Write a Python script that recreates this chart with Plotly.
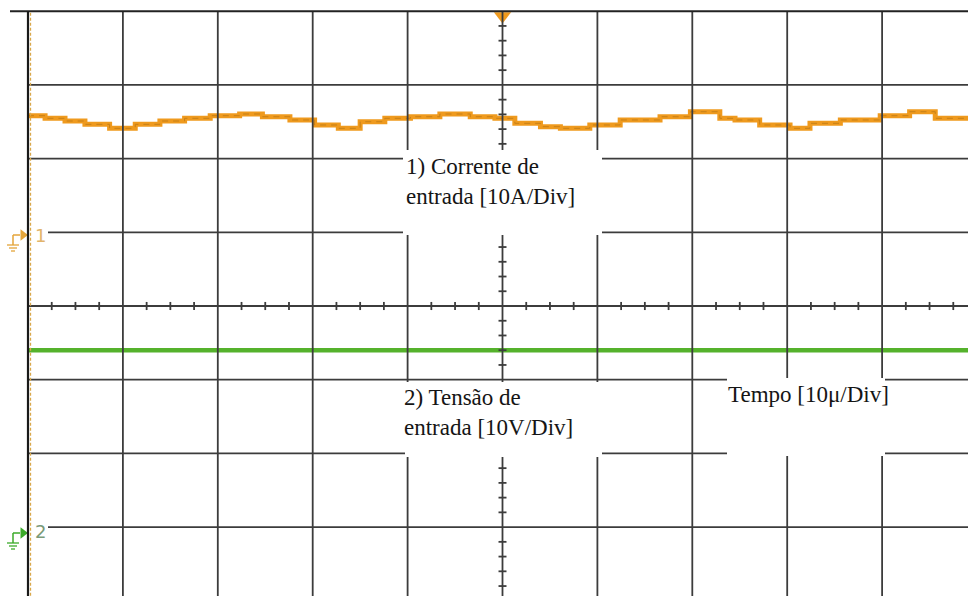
import plotly.graph_objects as go

# ---- Channel 1: input current (10 A/div, ground marker at +1 div) ----
time_i_us = [0.0, 1.8, 3.9, 6.0, 8.6, 11.3, 13.9, 16.5, 19.2, 22.3, 24.7, 27.6,
             30.2, 32.7, 35.0, 37.6, 40.3, 43.4, 46.6, 49.2, 51.3, 54.0, 56.1,
             59.2, 62.4, 66.6, 69.8, 72.9, 74.5, 77.1, 80.3, 82.4, 85.6, 89.8,
             92.9, 95.6, 99.1]
current_A = [15.82, 15.47, 15.10, 14.65, 14.11, 14.65, 15.10, 15.47, 15.82, 16.05,
             15.68, 15.24, 14.56, 14.11, 15.00, 15.47, 15.68, 16.05, 15.68, 15.47,
             14.79, 14.33, 14.11, 14.56, 15.24, 15.68, 16.36, 15.47, 15.24, 14.56,
             14.11, 14.79, 15.24, 15.82, 16.36, 15.47, 15.47]

# ---- Channel 2: input voltage (10 V/div, ground marker at -3 div) ----
time_v_us = [0, 10, 20, 30, 40, 50, 60, 70, 80, 90, 99.1]
voltage_V = [24.0, 24.0, 24.0, 24.0, 24.0, 24.0, 24.0, 24.0, 24.0, 24.0, 24.0]

CH1_SCALE, CH1_OFFSET = 10.0, 1.0     # A/div, divisions
CH2_SCALE, CH2_OFFSET = 10.0, -3.0    # V/div, divisions

label_ch1 = "1) Corrente de<br>entrada [10A/Div]"
label_ch2 = "2) Tensão de<br>entrada [10V/Div]"
label_time = "Tempo [10μ/Div]"

# ---- screen geometry (pixels) ----
W, H = 968, 596
X_LEFT, Y_CENTER = 28.0, 306.0
PX_PER_US = 9.49          # 94.9 px per 10 us division
PX_PER_DIV = 73.7


def tx(px):
    return (px - X_LEFT) / PX_PER_US


def dy(py):
    return (Y_CENTER - py) / PX_PER_DIV


X_RANGE = [tx(0), tx(W)]
Y_RANGE = [dy(H), dy(0)]

ORANGE = "#ef9a1e"
GREEN = "#55b22c"
GRID = "#3c3c3c"

fig = go.Figure()

fig.add_trace(go.Scatter(
    x=time_i_us, y=current_A, mode="lines", line=dict(color=ORANGE, width=5, shape="hv"),
    yaxis="y2", hoverinfo="skip"))
fig.add_trace(go.Scatter(
    x=time_i_us, y=current_A, mode="lines",
    line=dict(color="#6a4508", width=1, shape="hv", dash="6px,5px"),
    opacity=0.3, yaxis="y2", hoverinfo="skip"))
fig.add_trace(go.Scatter(
    x=time_v_us, y=voltage_V, mode="lines", line=dict(color=GREEN, width=4.5),
    yaxis="y3", hoverinfo="skip"))

shapes = []


def line(x0, y0, x1, y1, color=GRID, width=1.8, dash=None):
    d = dict(type="line", xref="x", yref="y", x0=x0, y0=y0, x1=x1, y1=y1,
             line=dict(color=color, width=width), layer="above")
    if dash:
        d["line"]["dash"] = dash
    shapes.append(d)


# graticule: vertical divisions
for k in range(1, 11):
    line(10 * k, -4, 10 * k, 4)
# graticule: horizontal divisions
for k in range(-3, 4):
    start = tx(48) if k in (CH1_OFFSET, CH2_OFFSET) else 0
    line(start, k, 100, k)
# top border and left border
line(tx(10), 4, 100, 4, color="#222222", width=2)
line(0, -4, 0, 4, color="#1a1a1a", width=2.2)
line(tx(30.5), -4, tx(30.5), 4, color="#d9a84a", width=1.3, dash="3px,2px")

# minor ticks on centre axes
for k in range(0, 41):
    t = 2.5 * k
    if k % 4:
        line(t, -0.055, t, 0.055)
for k in range(-20, 21):
    v = 0.2 * k
    if k % 5:
        line(50 - 0.42, v, 50 + 0.42, v)

# label panels hide the graticule behind the text
for (x0, x1, y0, y1) in [(403, 602, 150, 235), (405, 602, 382, 457), (727, 885, 378, 456)]:
    shapes.append(dict(type="rect", xref="x", yref="y", x0=tx(x0), x1=tx(x1),
                       y0=dy(y1), y1=dy(y0), fillcolor="white", line=dict(width=0),
                       layer="above"))

# ground symbols for the two channels
for (py, col) in [(235, "#e4a53a"), (533, "#3caa2a")]:
    line(tx(13), dy(py), tx(20), dy(py), color=col, width=1.5)
    line(tx(13), dy(py), tx(13), dy(py + 10), color=col, width=1.5)
    for j, half in enumerate([6, 4, 2]):
        line(tx(13 - half), dy(py + 10 + 3 * j), tx(13 + half), dy(py + 10 + 3 * j),
             color=col, width=1.3)

# channel reference arrows and trigger marker
fig.add_trace(go.Scatter(
    x=[tx(23), tx(23)], y=[dy(235), dy(533)], mode="markers",
    marker=dict(symbol="triangle-right", size=10, color=["#e4a53a", "#3caa2a"]),
    cliponaxis=False, hoverinfo="skip"))
fig.add_trace(go.Scatter(
    x=[50], y=[dy(16)], mode="markers",
    marker=dict(symbol="triangle-down", size=15, color=ORANGE),
    cliponaxis=False, hoverinfo="skip"))

TEXT_FONT = dict(family="Liberation Serif", size=23, color="#151515")
annotations = [
    dict(x=tx(33), y=dy(235), text="1", showarrow=False, xanchor="left",
         font=dict(family="DejaVu Sans", size=18, color="#e2b46a")),
    dict(x=tx(33), y=dy(531), text="2", showarrow=False, xanchor="left",
         font=dict(family="DejaVu Sans", size=18, color="#7a9a78")),
    dict(x=tx(404), y=dy(181), text=label_ch1, showarrow=False, xanchor="left",
         align="left", font=TEXT_FONT),
    dict(x=tx(402), y=dy(412), text=label_ch2, showarrow=False, xanchor="left",
         align="left", font=TEXT_FONT),
    dict(x=tx(726), y=dy(394), text=label_time, showarrow=False, xanchor="left",
         align="left", font=TEXT_FONT),
]

fig.update_layout(
    width=W, height=H, margin=dict(l=0, r=0, t=0, b=0),
    paper_bgcolor="white", plot_bgcolor="white", showlegend=False,
    xaxis=dict(range=X_RANGE, visible=False, fixedrange=True),
    yaxis=dict(range=Y_RANGE, visible=False, fixedrange=True),
    yaxis2=dict(range=[(Y_RANGE[0] - CH1_OFFSET) * CH1_SCALE, (Y_RANGE[1] - CH1_OFFSET) * CH1_SCALE],
                overlaying="y", visible=False, fixedrange=True),
    yaxis3=dict(range=[(Y_RANGE[0] - CH2_OFFSET) * CH2_SCALE, (Y_RANGE[1] - CH2_OFFSET) * CH2_SCALE],
                overlaying="y", visible=False, fixedrange=True),
    shapes=shapes, annotations=annotations,
)

fig.write_html("out.html")
